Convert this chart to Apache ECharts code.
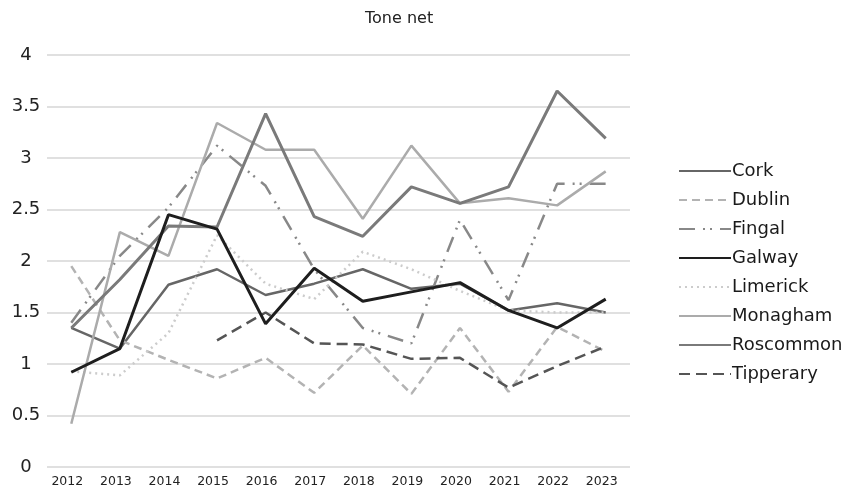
<!DOCTYPE html>
<html>
<head>
<meta charset="utf-8">
<script src="https://cdn.jsdelivr.net/npm/echarts@6/dist/echarts.min.js"></script>
<style>
html,body{margin:0;padding:0;background:#fff;}
#chart{width:845px;height:492px;}
</style>
</head>
<body>
<div id="chart"></div>
<script>
const years = ['2012','2013','2014','2015','2016','2017','2018','2019','2020','2021','2022','2023'];
const cork      = [1.35,1.15,1.77,1.92,1.67,1.78,1.92,1.73,1.78,1.52,1.59,1.50];
const dublin    = [1.95,1.23,1.04,0.86,1.06,0.72,1.18,0.71,1.35,0.73,1.36,1.12];
const fingal    = [1.40,2.05,2.52,3.12,2.73,1.92,1.35,1.20,2.40,1.62,2.75,2.75];
const galway    = [0.92,1.15,2.45,2.31,1.39,1.93,1.61,1.70,1.79,1.52,1.35,1.63];
const limerick  = [0.93,0.89,1.30,2.25,1.78,1.63,2.09,1.92,1.71,1.52,1.50,1.50];
const monagham  = [0.42,2.28,2.05,3.34,3.08,3.08,2.41,3.12,2.56,2.61,2.54,2.87];
const roscommon = [1.35,1.82,2.34,2.33,3.43,2.43,2.24,2.72,2.56,2.72,3.65,3.19];
const tipperary = [null,null,null,1.23,1.50,1.20,1.19,1.05,1.06,0.77,0.98,1.17];
const yTicks = [0,0.5,1,1.5,2,2.5,3,3.5,4];

function line(name, data, color, width, type) {
  return {
    name: name, type: 'line', data: data, symbol: 'none', connectNulls: false,
    lineStyle: { color: color, width: width, type: type },
    itemStyle: { color: color }
  };
}

const chart = echarts.init(document.getElementById('chart'), null, {renderer: 'canvas'});
chart.setOption({
  animation: false,
  backgroundColor: '#ffffff',
  title: {
    text: 'Tone net', left: 360, top: 6,
    textStyle: { fontFamily: 'DejaVu Sans', fontSize: 16, fontWeight: 'normal', color: '#222' }
  },
  legend: {
    orient: 'vertical', left: 673, top: 157,
    itemWidth: 52, itemHeight: 14, itemGap: 11,
    itemStyle: { opacity: 0 },
    textStyle: { fontFamily: 'DejaVu Sans', fontSize: 18, color: '#1a1a1a', padding: [0,0,0,-4] },
    data: ['Cork','Dublin','Fingal','Galway','Limerick','Monagham','Roscommon','Tipperary']
  },
  grid: { left: 47, right: 215, top: 55, bottom: 25, containLabel: false },
  xAxis: {
    type: 'category', data: years, boundaryGap: true,
    axisLine: { show: false }, axisTick: { show: false },
    axisLabel: { fontFamily: 'DejaVu Sans', fontSize: 12.5, color: '#222', margin: 8, padding: [0,8,0,0] }
  },
  yAxis: {
    type: 'value', min: 0, max: 4, interval: 0.5,
    axisLine: { show: false }, axisTick: { show: false },
    splitLine: { lineStyle: { color: '#d6d6d6', width: 1.5 } },
    axisLabel: {
      fontFamily: 'DejaVu Sans', fontSize: 18, color: '#222', align: 'center', margin: 21,
      formatter: function (v) { return yTicks.indexOf(v) >= 0 ? String(v) : ''; }
    }
  },
  series: [
    line('Cork', cork, '#666666', 2.5, 'solid'),
    line('Dublin', dublin, '#b3b3b3', 2.5, [8,5]),
    line('Fingal', fingal, '#888888', 2.5, [16,8,2,5,2,8]),
    line('Limerick', limerick, '#cccccc', 2.5, [2,4]),
    line('Monagham', monagham, '#ababab', 2.5, 'solid'),
    line('Roscommon', roscommon, '#7a7a7a', 3, 'solid'),
    line('Tipperary', tipperary, '#555555', 2.5, [11,6]),
    line('Galway', galway, '#1e1e1e', 3, 'solid')
  ]
});
</script>
</body>
</html>
